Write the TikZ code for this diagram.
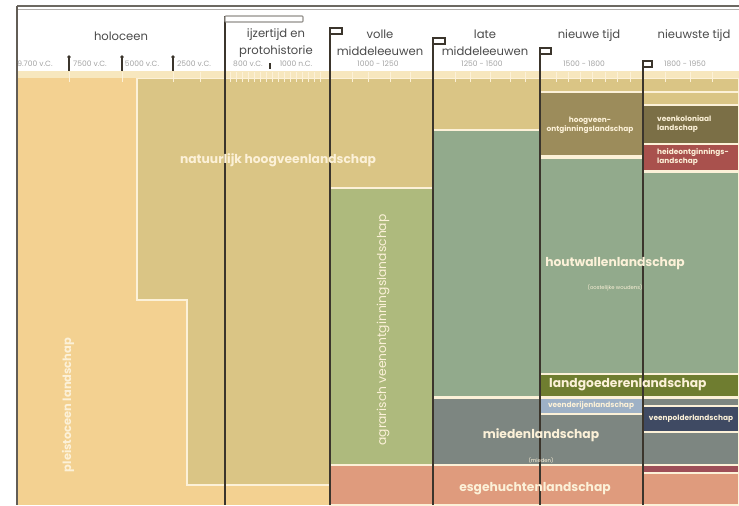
\documentclass[tikz,border=0pt]{standalone}
\usepackage{fontspec}
\setmainfont{Poppins}
\usetikzlibrary{positioning}

\definecolor{zand}{HTML}{F3D191}
\definecolor{veen}{HTML}{DAC585}
\definecolor{akker}{HTML}{AEBA7D}
\definecolor{hout}{HTML}{92AA8C}
\definecolor{goed}{HTML}{6F7D30}
\definecolor{mied}{HTML}{7D8681}
\definecolor{derij}{HTML}{9EB1C6}
\definecolor{polder}{HTML}{3F4A63}
\definecolor{es}{HTML}{DF9B7D}
\definecolor{ontg}{HTML}{9C8C5B}
\definecolor{kolon}{HTML}{7B6F46}
\definecolor{heide}{HTML}{A9514D}
\definecolor{rood}{HTML}{9E4F58}
\definecolor{room}{HTML}{FCF1D8}
\definecolor{strook}{HTML}{F7E7BE}
\definecolor{lijn}{HTML}{3B352C}
\definecolor{tekst}{HTML}{4A4A4A}
\definecolor{datum}{HTML}{A3A3A3}

\begin{document}
\begin{tikzpicture}
	[x=0.02cm, y=-0.02cm,
	blok/.style		={draw=room, line width=1.1pt},
	grens/.style	={draw=lijn, line width=0.8pt},
	vlag/.style		={draw=lijn, fill=white, line width=0.7pt},
	periode/.style	={text=tekst, align=center, font=\fontsize{6.6}{9.6}\selectfont},
	jaar/.style		={text=datum, font=\fontsize{4.3}{5}\selectfont},
	groot/.style	={text=room, font=\bfseries\fontsize{7}{8}\selectfont},
	klein/.style	={text=room, align=left, font=\bfseries\fontsize{4.2}{5}\selectfont},
	noot/.style		={text=room, font=\fontsize{3}{3.5}\selectfont},]
	\useasboundingbox (0,0) rectangle (739,505);
	% vlakken
	\fill[zand] (17,78) rectangle (739,505);
	\path[blok, fill=veen] (137,78) -- (739,78) -- (739,485) -- (187,485) -- (187,300) -- (137,300) -- cycle;
	\path[blok, fill=akker] (330,188) rectangle (433,465);
	\path[blok, fill=hout] (433,130) -- (540,130) -- (540,158) -- (643,158) -- (643,172) -- (739,172) -- (739,397) -- (433,397) -- cycle;
	\path[blok, fill=ontg] (540,92) rectangle (643,156);
	\draw[blok] (643,92) -- (739,92);
	\path[blok, fill=kolon] (643,105) rectangle (739,144);
	\path[blok, fill=heide] (643,144) rectangle (739,171);
	\path[blok, fill=goed] (540,374) rectangle (739,397);
	\path[blok, fill=mied] (433,398) rectangle (739,465);
	\path[blok, fill=derij] (540,398) rectangle (643,414);
	\path[blok, fill=polder] (643,406) rectangle (739,432);
	\path[blok, fill=es] (330,465) rectangle (739,505);
	\path[blok, fill=rood] (643,465) rectangle (739,473);
	% tijdbalk
	\fill[strook] (17,71) rectangle (739,78);
	\foreach \x in {69,122,173,200,230,236,...,322,352,368,390,410,455,470,490,510,525,556,568,580,592,605,617,630,665,690,712}
		\draw[room, line width=0.4pt] (\x,72) -- (\x,82);
	\draw[lijn!75, line width=0.6pt] (17,6) -- (739,6);
	\draw[lijn!40, line width=0.4pt] (17,9.5) -- (739,9.5);
	\draw[lijn!80, line width=0.6pt] (17,6) -- (17,505);
	% grenzen
	\coordinate (g1) at (225,16);
	\coordinate (g2) at (330,28);
	\coordinate (g3) at (433,38);
	\coordinate (g4) at (540,48);
	\coordinate (g5) at (643,61);
	\coordinate (bodem) at (0,505);
	\foreach \g in {g1,g2,g3,g4,g5}
		\draw[grens] (\g) -- (\g |- bodem);
	\draw[draw=lijn!55, fill=white, line width=0.6pt, rounded corners=0.5pt] (g1) rectangle ++(78,6);
	\draw[vlag] (g2) rectangle ++(12,6);
	\draw[vlag] (g3) rectangle ++(12,6);
	\draw[vlag] (g4) rectangle ++(11,6);
	\draw[vlag] (g5) rectangle ++(9,6);
	\foreach \x in {69,122,173} {
		\draw[grens, line width=0.6pt] (\x,57) -- (\x,71);
		\fill[lijn] (\x,57) circle (1.8);}
	\draw[lijn, line width=0.6pt] (270,63) -- (270,69);
	% perioden
	\node[periode] (hol) 	at (121,36)	{holoceen};
	\node[periode] (ijz) 	at (276,43)	{ijzertijd en\\protohistorie};
	\node[periode] (vol) 	at (380,43)	{volle\\middeleeuwen};
	\node[periode] (lat) 	at (485,43)	{late\\middeleeuwen};
	\node[periode] (nwe) 	at (589,36)	{nieuwe tijd};
	\node[periode] (nst) 	at (694,36)	{nieuwste tijd};
	\node[jaar] (j1)	at (35,64)	{9.700 v.C.};
	\node[jaar] (j2)	at (90,64)	{7500 v.C.};
	\node[jaar] (j3)	at (142,64)	{5000 v.C.};
	\node[jaar] (j4)	at (194,64)	{2500 v.C.};
	\node[jaar] (j5)	at (248,64)	{800 v.C.};
	\node[jaar] (j6)	at (296,64)	{1000 n.C.};
	\node[jaar] (j7)	at (378,64)	{1000 - 1250};
	\node[jaar] (j8)	at (482,64)	{1250 - 1500};
	\node[jaar] (j9)	at (584,64)	{1500 - 1800};
	\node[jaar] (j10)	at (685,64)	{1800 - 1950};
	% landschappen
	\node[groot, rotate=90, font=\bfseries\fontsize{6.5}{7}\selectfont] (pls) at (68,405) {pleistoceen landschap};
	\node[groot] (nhl) at (278,160) {natuurlijk hoogveenlandschap};
	\node[groot, rotate=90, font=\fontsize{7}{8}\selectfont] (avl) at (383,330) {agrarisch veenontginningslandschap};
	\node[klein, align=center] (hol) at (590,125) {hoogveen-\\ontginningslandschap};
	\node[klein, anchor=west] (vkl) at (651,124) {veenkoloniaal\\landschap};
	\node[klein, anchor=west] (hdo) at (651,157) {heideontginnings-\\landschap};
	\node[groot] (hwl) at (615,264) {houtwallenlandschap};
	\node[noot, below=1pt of hwl] (hws) {(oostelijke woudens)};
	\node[groot, anchor=west] (lgl) at (543,385) {landgoederenlandschap};
	\node[klein] (vdl) at (591,406) {veenderijenlandschap};
	\node[klein] (vpl) at (691,419) {veenpolderlandschap};
	\node[groot] (mdl) at (541,435) {miedenlandschap};
	\node[noot, below=2pt of mdl] (mds) {(mieden)};
	\node[groot] (esl) at (535,489) {esgehuchtenlandschap};
\end{tikzpicture}
\end{document}
